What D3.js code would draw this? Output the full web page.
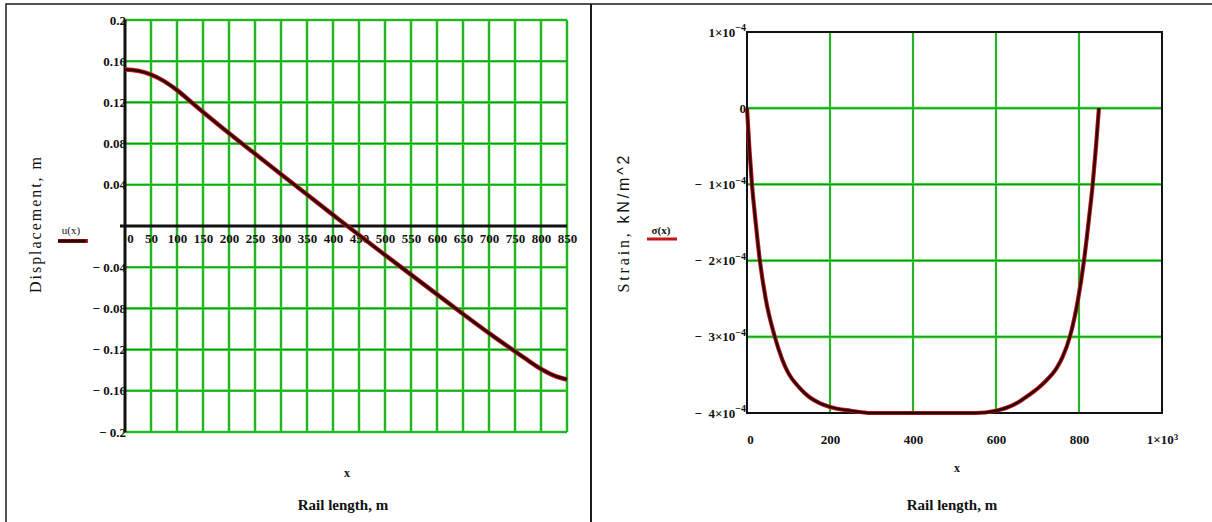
<!DOCTYPE html>
<html>
<head>
<meta charset="utf-8">
<script src="https://cdn.jsdelivr.net/npm/d3@7"></script>
<style>
  body { margin: 0; background: #ffffff; }
  svg { display: block; }
</style>
</head>
<body>
<div id="chart"></div>
<script>
// Colours
var gridGreen = "#2fe02f";
var gridDark = "#1d5f1d";
var curveRed = "#c01818";
var curveDark = "#2e0606";
var ink = "#111111";
const serif = "'Liberation Serif', 'DejaVu Serif', serif";
const sans = "'Liberation Sans', Arial, sans-serif";
const labelSize = "13px";

// Displacement chart data (x in m, u in m)
const dispX = [0, 25, 50, 75, 100, 125, 150, 200, 250, 300, 350, 400, 450, 500, 550, 600, 650, 700, 750, 775, 800, 825, 850];
const dispU = [0.152, 0.1507, 0.147, 0.1407, 0.1319, 0.1213, 0.1106, 0.090, 0.0702, 0.0503, 0.0305, 0.0108, -0.0088, -0.0281, -0.0472, -0.0664, -0.0854, -0.104, -0.1218, -0.1305, -0.1388, -0.1452, -0.149];
const dispXTicks = [0, 50, 100, 150, 200, 250, 300, 350, 400, 450, 500, 550, 600, 650, 700, 750, 800, 850];
const dispYTicks = [0.2, 0.16, 0.12, 0.08, 0.04, -0.04, -0.08, -0.12, -0.16, -0.2];
const dispYLabels = ["0.2", "0.16", "0.12", "0.08", "0.04", "\u2212 0.04", "\u2212 0.08", "\u2212 0.12", "\u2212 0.16", "\u2212 0.2"];

// Strain chart data (x in m, sigma in kN/m^2)
const strainX = [0, 6, 12, 20, 31, 45, 67, 85, 100, 125, 150, 175, 200, 250, 300, 400, 500, 550, 600, 650, 675, 700, 720, 745, 760, 778, 798, 812, 824, 833, 841, 848];
const strainS = [0, -0.55e-4, -1.0e-4, -1.45e-4, -2.0e-4, -2.5e-4, -3.0e-4, -3.3e-4, -3.48e-4, -3.66e-4, -3.79e-4, -3.87e-4, -3.92e-4, -3.97e-4, -4.0e-4, -4.0e-4, -4.0e-4, -4.0e-4, -3.97e-4, -3.87e-4, -3.78e-4, -3.68e-4, -3.58e-4, -3.42e-4, -3.27e-4, -3.0e-4, -2.5e-4, -2.0e-4, -1.45e-4, -1.0e-4, -0.5e-4, 0];
const strainXTicks = [0, 200, 400, 600, 800, 1000];
const strainXGrid = [200, 400, 600, 800];
const strainYTicks = [1e-4, 0, -1e-4, -2e-4, -3e-4, -4e-4];
const strainYGrid = [0, -1e-4, -2e-4, -3e-4];
const strainYMant = ["1", "0", "1", "2", "3", "4"];

const W = 1212, H = 522;

const svg = d3.select("#chart")
    .append("svg")
    .attr("width", W)
    .attr("height", H);

// page frame and divider
svg.append("path")
    .attr("d", "M6,522 V4 H1212")
    .attr("fill", "none")
    .attr("stroke", "#1a1a1a")
    .attr("stroke-width", 1.5);
svg.append("line")
    .attr("x1", 591).attr("x2", 591)
    .attr("y1", 4).attr("y2", 522)
    .attr("stroke", "#1a1a1a")
    .attr("stroke-width", 2);

// helper: green grid line with darker core
function gridLine(g, x1, y1, x2, y2, glow) {
    g.append("line")
        .attr("x1", x1).attr("y1", y1).attr("x2", x2).attr("y2", y2)
        .attr("stroke", gridGreen)
        .attr("stroke-width", glow);
    g.append("line")
        .attr("x1", x1).attr("y1", y1).attr("x2", x2).attr("y2", y2)
        .attr("stroke", gridDark)
        .attr("stroke-width", 0.9)
        .attr("stroke-opacity", 0.8);
}

// ---------------- Left chart: displacement ----------------
const xL = d3.scaleLinear().domain([0, 850]).range([125, 567]);
const yL = d3.scaleLinear().domain([-0.2, 0.2]).range([432, 20]);

const left = svg.append("g");

dispXTicks.filter(d => d !== 0).forEach(function (d) {
    gridLine(left, xL(d), yL(0.2), xL(d), yL(-0.2), 2.6);
});
dispYTicks.forEach(function (d) {
    gridLine(left, xL(0), yL(d), xL(850), yL(d), 2.6);
});

// x axis through zero
left.append("line")
    .attr("x1", 120).attr("x2", xL(850))
    .attr("y1", yL(0)).attr("y2", yL(0))
    .attr("stroke", ink).attr("stroke-width", 3);
// y axis at x = 0
left.append("line")
    .attr("x1", xL(0)).attr("x2", xL(0))
    .attr("y1", yL(0.2)).attr("y2", yL(-0.2))
    .attr("stroke", ink).attr("stroke-width", 3);

const xAxisL = left.append("g")
    .attr("transform", `translate(0, ${yL(0)})`)
    .call(d3.axisBottom(xL).tickValues(dispXTicks).tickSize(0).tickPadding(8).tickFormat(d3.format("d")));
xAxisL.select(".domain").remove();
xAxisL.selectAll("text")
    .style("font-family", serif)
    .style("font-size", labelSize)
    .style("font-weight", "bold")
    .attr("fill", ink)
    .attr("dx", d => d === 0 ? 5 : 0);

const yAxisL = left.append("g")
    .attr("transform", `translate(${xL(0) + 1}, 0)`)
    .call(d3.axisLeft(yL).tickValues(dispYTicks).tickSize(0).tickPadding(0)
        .tickFormat((d, i) => dispYLabels[i]));
yAxisL.select(".domain").remove();
yAxisL.selectAll("text")
    .style("font-family", serif)
    .style("font-size", labelSize)
    .style("font-weight", "bold")
    .attr("fill", ink)
    .style("white-space", "pre");

// displacement curve
const dispLine = d3.line()
    .x((d, i) => xL(dispX[i]))
    .y(d => yL(d))
    .curve(d3.curveMonotoneX);
left.append("path")
    .datum(dispU)
    .attr("d", dispLine)
    .attr("fill", "none")
    .attr("stroke", curveRed)
    .attr("stroke-width", 4.5);
left.append("path")
    .datum(dispU)
    .attr("d", dispLine)
    .attr("fill", "none")
    .attr("stroke", curveDark)
    .attr("stroke-width", 2.6);

// titles
left.append("text")
    .attr("transform", "translate(41, 225) rotate(-90)")
    .attr("text-anchor", "middle")
    .attr("font-family", serif)
    .attr("font-size", 16)
    .attr("textLength", 136)
    .attr("lengthAdjust", "spacing")
    .attr("fill", ink)
    .text("Displacement, m");
left.append("text")
    .attr("x", 71).attr("y", 234)
    .attr("text-anchor", "middle")
    .attr("font-family", serif)
    .attr("font-size", 11)
    .attr("fill", ink)
    .text("u(x)");
left.append("line")
    .attr("x1", 58).attr("x2", 88).attr("y1", 241).attr("y2", 241)
    .attr("stroke", curveRed).attr("stroke-width", 4);
left.append("line")
    .attr("x1", 58).attr("x2", 86).attr("y1", 241).attr("y2", 241)
    .attr("stroke", curveDark).attr("stroke-width", 3);
left.append("text")
    .attr("x", 347).attr("y", 477)
    .attr("text-anchor", "middle")
    .attr("font-family", serif)
    .attr("font-weight", "bold")
    .attr("font-size", 12)
    .attr("fill", ink)
    .text("x");
left.append("text")
    .attr("x", 343).attr("y", 510)
    .attr("text-anchor", "middle")
    .attr("font-family", serif)
    .attr("font-weight", "bold")
    .attr("font-size", 15)
    .attr("fill", ink)
    .text("Rail length, m");

// ---------------- Right chart: strain ----------------
const xR = d3.scaleLinear().domain([0, 1000]).range([747, 1162]);
const yR = d3.scaleLinear().domain([-4e-4, 1e-4]).range([413, 32]);

const right = svg.append("g");

strainXGrid.forEach(function (d) {
    gridLine(right, xR(d), yR(1e-4), xR(d), yR(-4e-4), 2.2);
});
strainYGrid.forEach(function (d) {
    gridLine(right, xR(0), yR(d), xR(1000), yR(d), 2.8);
});

// plot box
right.append("rect")
    .attr("x", xR(0)).attr("y", yR(1e-4))
    .attr("width", xR(1000) - xR(0))
    .attr("height", yR(-4e-4) - yR(1e-4))
    .attr("fill", "none")
    .attr("stroke", ink)
    .attr("stroke-width", 2);

const xAxisR = right.append("g")
    .attr("transform", `translate(0, ${yR(-4e-4)})`)
    .call(d3.axisBottom(xR).tickValues(strainXTicks).tickSize(0).tickPadding(22).tickFormat(() => ""));
xAxisR.select(".domain").remove();
xAxisR.selectAll("text")
    .style("font-family", serif)
    .style("font-size", labelSize)
    .style("font-weight", "bold")
    .attr("fill", ink)
    .attr("dx", d => d === 0 ? 3 : 0)
    .each(function (d) {
        const t = d3.select(this);
        if (d === 1000) {
            t.append("tspan").text("1\u00d710");
            t.append("tspan").attr("dy", "-0.5em").style("font-size", "9px").text("3");
        } else {
            t.text(d);
        }
    });

const yAxisR = right.append("g")
    .attr("transform", `translate(${xR(0)}, 0)`)
    .call(d3.axisLeft(yR).tickValues(strainYTicks).tickSize(0).tickPadding(1).tickFormat(() => ""));
yAxisR.select(".domain").remove();
yAxisR.selectAll("text")
    .style("font-family", serif)
    .style("font-size", labelSize)
    .style("font-weight", "bold")
    .attr("fill", ink)
    .style("white-space", "pre")
    .each(function (d, i) {
        const t = d3.select(this);
        if (d === 0) {
            t.text("0");
            return;
        }
        t.append("tspan").text((d < 0 ? "\u2212  " : "") + strainYMant[i] + "\u00d710");
        t.append("tspan").attr("dy", "-0.55em").style("font-size", "10px").text("\u22124");
        t.append("tspan").attr("dy", "0.55em").style("font-size", "10px").text("");
    });

// strain curve
const strainLine = d3.line()
    .x((d, i) => xR(strainX[i]))
    .y(d => yR(d))
    .curve(d3.curveMonotoneX);
right.append("path")
    .datum(strainS)
    .attr("d", strainLine)
    .attr("fill", "none")
    .attr("stroke", curveRed)
    .attr("stroke-width", 4.2);
right.append("path")
    .datum(strainS)
    .attr("d", strainLine)
    .attr("fill", "none")
    .attr("stroke", curveDark)
    .attr("stroke-width", 2.4);

// titles
const strainTitle = right.append("text")
    .attr("transform", "translate(629, 224) rotate(-90)")
    .attr("text-anchor", "middle")
    .attr("font-size", 16)
    .attr("textLength", 137)
    .attr("lengthAdjust", "spacing")
    .attr("fill", ink);
strainTitle.append("tspan").attr("font-family", serif).text("Strain, ");
strainTitle.append("tspan").attr("font-family", sans).text("kN/m^2");

right.append("text")
    .attr("x", 661).attr("y", 234)
    .attr("text-anchor", "middle")
    .attr("font-family", serif)
    .attr("font-weight", "bold")
    .attr("font-size", 11)
    .attr("fill", ink)
    .text("\u03c3(x)");
right.append("line")
    .attr("x1", 647).attr("x2", 677).attr("y1", 239).attr("y2", 239)
    .attr("stroke", curveRed).attr("stroke-width", 3);
right.append("text")
    .attr("x", 957).attr("y", 472)
    .attr("text-anchor", "middle")
    .attr("font-family", serif)
    .attr("font-weight", "bold")
    .attr("font-size", 12)
    .attr("fill", ink)
    .text("x");
right.append("text")
    .attr("x", 952).attr("y", 510)
    .attr("text-anchor", "middle")
    .attr("font-family", serif)
    .attr("font-weight", "bold")
    .attr("font-size", 15)
    .attr("fill", ink)
    .text("Rail length, m");
</script>
</body>
</html>
